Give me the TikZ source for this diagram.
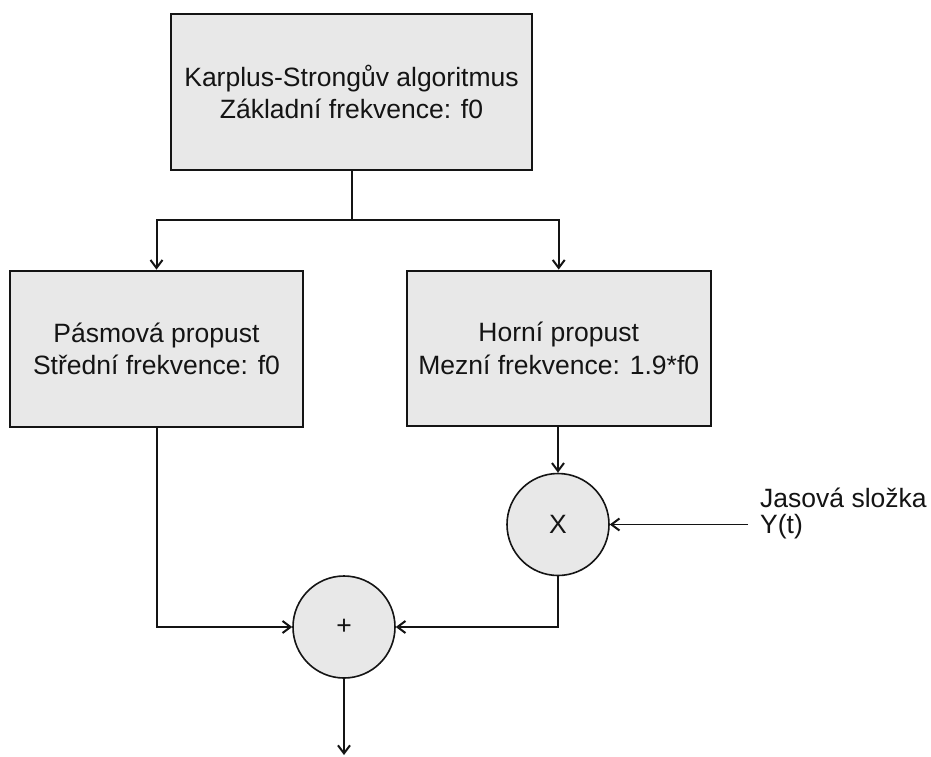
\documentclass[tikz,border=0pt]{standalone}
\usepackage{fontspec}
\setmainfont{Liberation Sans}
\usetikzlibrary{arrows.meta}

\definecolor{blockfill}{RGB}{232,232,232}
\definecolor{inkcol}{RGB}{20,20,20}

\begin{document}
\begin{tikzpicture}[x=1pt,y=-1pt,
  every node/.style={font=\fontsize{26.5}{32.5}\selectfont, text=inkcol},
  block/.style={draw=inkcol, fill=blockfill, line width=2.2pt, rectangle,
    align=center, inner sep=0pt},
  junction/.style={draw=inkcol, fill=blockfill, line width=1.6pt, circle,
    minimum size=102pt, inner sep=0pt},
  wire/.style={draw=inkcol, line width=2pt},
  thinwire/.style={draw=inkcol, line width=1.3pt},
  tip/.style={-{Straight Barb[length=8pt,width=12pt,line width=2pt]}},
]
\useasboundingbox (0,0) rectangle (931,756);

% filter chain
\node[block, minimum width=361pt, minimum height=156pt] (ks) at (351.5,92)
  {Karplus-Strongův algoritmus\\Základní frekvence: f0};
\node[block, minimum width=293pt, minimum height=156pt] (bp) at (156.5,348.7)
  {Pásmová propust\\Střední frekvence: f0};
\node[block, minimum width=304pt, minimum height=155pt] (hp) at (558.7,348.2)
  {Horní propust\\Mezní frekvence: 1.9*f0};

% multiplier and adder
\node[junction] (mul) at (558,524.5) {X};
\node[junction] (sum) at (344,627) {+};

% luminance input label
\node[inner sep=0pt, anchor=base west] (lum1) at (760,507.7) {Jasová složka};
\node[inner sep=0pt, anchor=base west] (lum2) at (760,533.3) {Y(t)};

\coordinate (split) at (351.5,220);
\coordinate (yin) at (748,524.5);
\coordinate (out) at (344,755);

% connectors
\draw[wire] (ks.south) -- (split);
\draw[wire, tip] (split) -| (bp.north);
\draw[wire, tip] (split) -| (hp.north);
\draw[thinwire, tip] (mul.north |- hp.south) -- (mul.north);
\draw[thinwire, tip] (yin) -- (mul.east);
\draw[wire, tip] (bp.south) |- (sum.west);
\draw[wire, tip] (mul.south) |- (sum.east);
\draw[wire, tip] (sum.south) -- (out);
\end{tikzpicture}
\end{document}
